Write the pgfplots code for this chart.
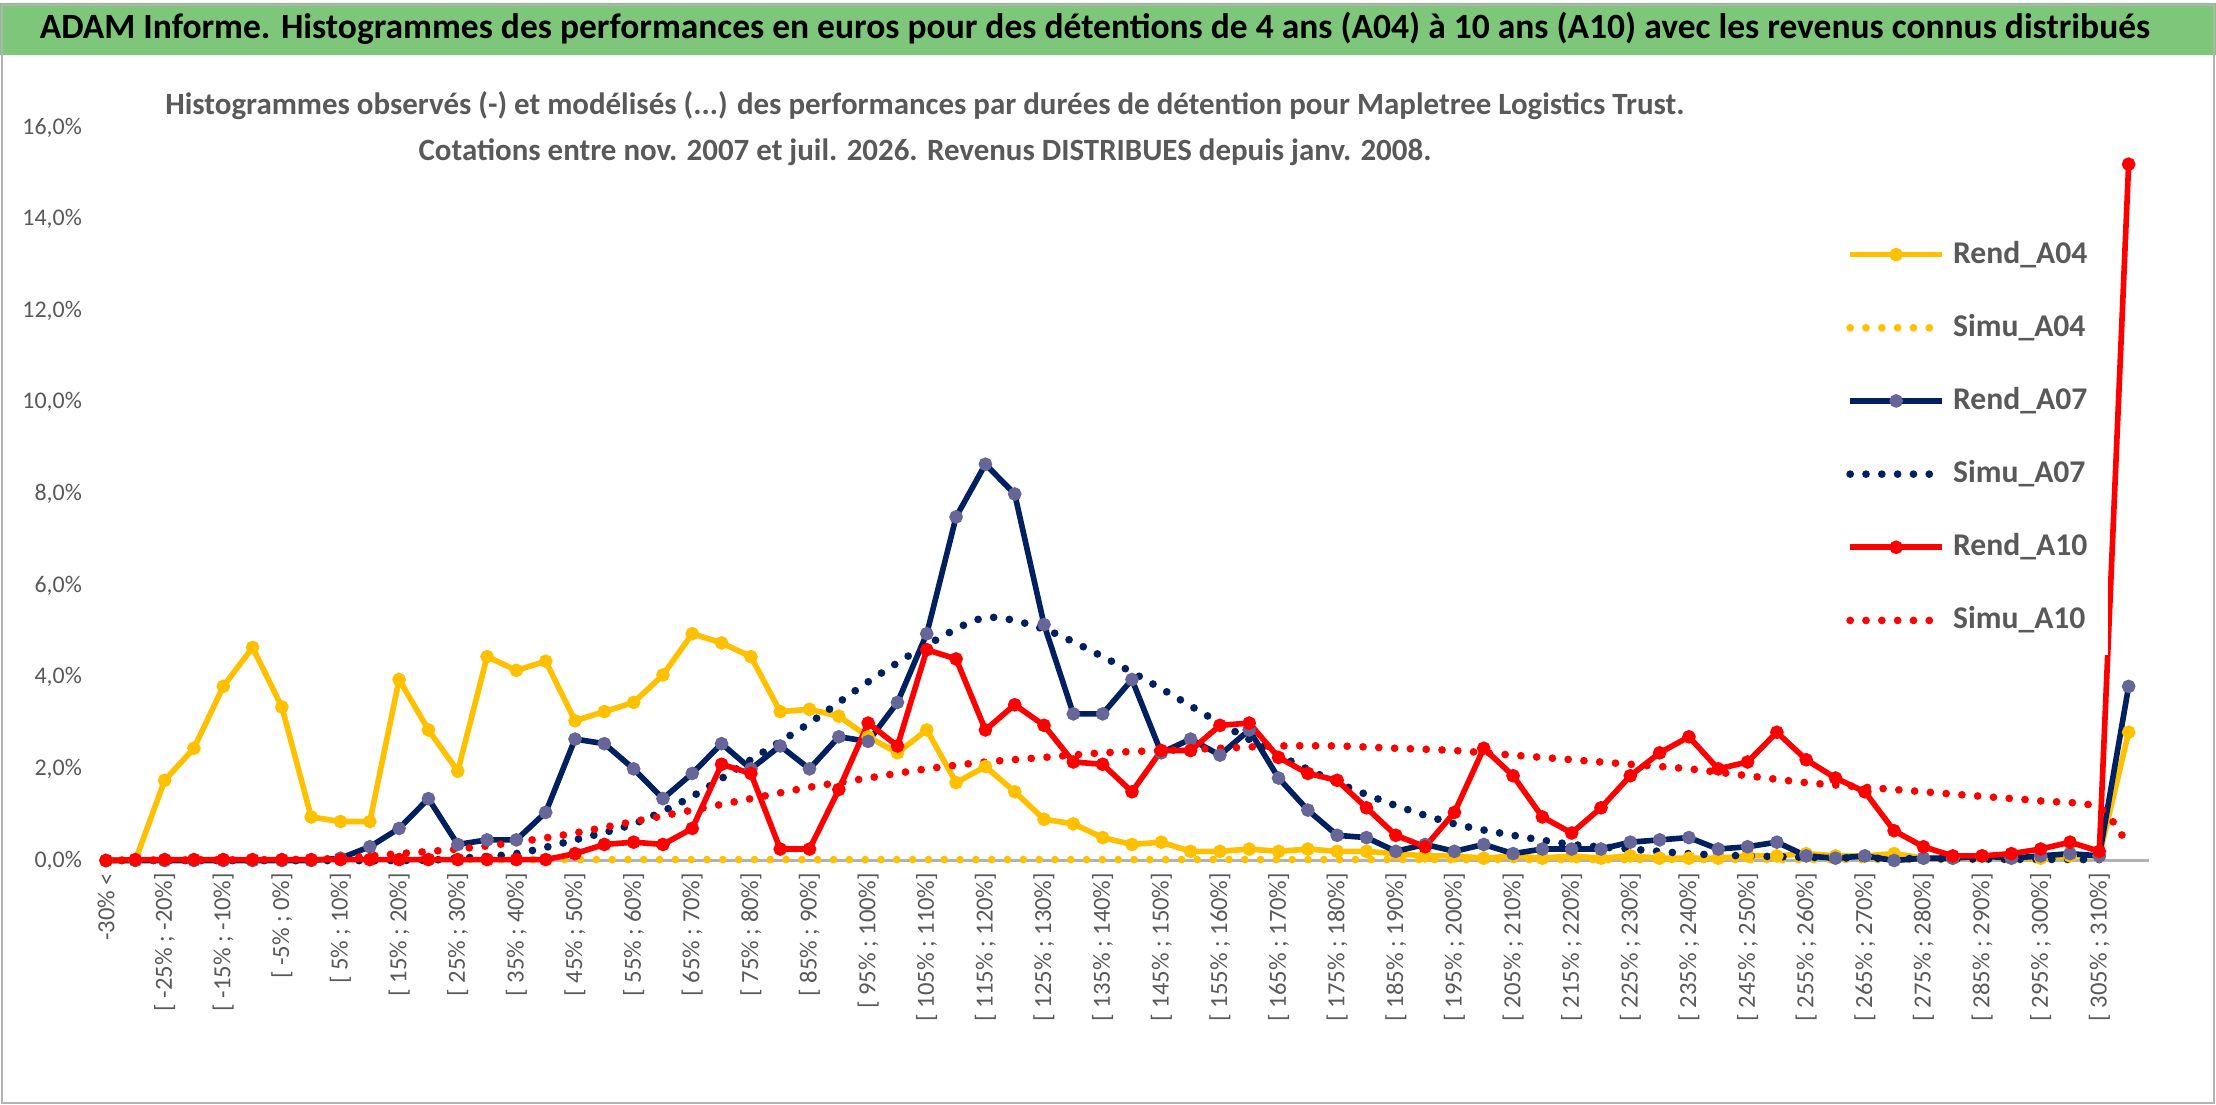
\documentclass[border=0pt]{standalone}
\usepackage{pgfplots}
\pgfplotsset{compat=1.18}
\usepackage{fontspec}
\setmainfont{Carlito}
\definecolor{cy}{HTML}{FFC000}
\definecolor{cn}{HTML}{002060}
\definecolor{cr}{HTML}{FF0000}
\definecolor{cg}{HTML}{7DC67A}
\definecolor{tg}{HTML}{595959}
\begin{document}
\begin{tikzpicture}
\fill[white] (0,0) rectangle (22.16,11.02);
\fill[cg] (0,10.5) rectangle (22.16,11.02);
\draw[gray!60,line width=0.4pt] (0.02,0.02) rectangle (22.14,11.0);
\node[font=\fontsize{10.1}{12}\selectfont\bfseries] at (10.95,10.77) {ADAM Informe. Histogrammes des performances en euros pour des détentions de 4 ans (A04) à 10 ans (A10) avec les revenus connus distribués};
\begin{axis}[at={(1.06cm,2.444cm)},anchor=origin,
  scale only axis,width=20.49cm,height=7.33cm,
  xmin=-0.2,xmax=69.7,ymin=0,ymax=16,
  axis y line=none, axis x line*=bottom,
  x axis line style={gray!60,line width=0.6pt},
  xtick={0,2,...,68}, major tick length=0pt,
  /pgf/number format/assume math mode=true,
  xticklabels={{-30\% <},{[ -25\% ; -20\%]},{[ -15\% ; -10\%]},{[ -5\% ; 0\%]},{[ 5\% ; 10\%]},{[ 15\% ; 20\%]},{[ 25\% ; 30\%]},{[ 35\% ; 40\%]},{[ 45\% ; 50\%]},{[ 55\% ; 60\%]},{[ 65\% ; 70\%]},{[ 75\% ; 80\%]},{[ 85\% ; 90\%]},{[ 95\% ; 100\%]},{[ 105\% ; 110\%]},{[ 115\% ; 120\%]},{[ 125\% ; 130\%]},{[ 135\% ; 140\%]},{[ 145\% ; 150\%]},{[ 155\% ; 160\%]},{[ 165\% ; 170\%]},{[ 175\% ; 180\%]},{[ 185\% ; 190\%]},{[ 195\% ; 200\%]},{[ 205\% ; 210\%]},{[ 215\% ; 220\%]},{[ 225\% ; 230\%]},{[ 235\% ; 240\%]},{[ 245\% ; 250\%]},{[ 255\% ; 260\%]},{[ 265\% ; 270\%]},{[ 275\% ; 280\%]},{[ 285\% ; 290\%]},{[ 295\% ; 300\%]},{[ 305\% ; 310\%]}},
  xticklabel style={rotate=90,anchor=east,font=\fontsize{7}{8}\selectfont,text=tg},
  clip=false,
  legend style={at={(0.845,0.875)},anchor=north west,draw=none,fill=white,font=\fontsize{9}{10}\selectfont\bfseries,text=tg,row sep=9pt,inner sep=4pt},
  legend cell align=left,
  legend image code/.code={\draw[#1,mark repeat=2,mark phase=2] plot coordinates {(0cm,0cm) (0.46cm,0cm) (0.92cm,0cm)};},
]
\pgfplotsinvokeforeach{0,2,...,16}{\node[anchor=east,font=\fontsize{6.8}{7}\selectfont,text=tg] at (axis cs:-0.4,#1) {\pgfmathprintnumber[fixed,fixed zerofill,precision=1,use comma,assume math mode=true]{#1}\%};}
\addplot[cy,line width=1.6pt,mark=*,mark size=1.1pt] coordinates {
(0,0)(1,0)(2,1.75)(3,2.45)(4,3.8)(5,4.65)(6,3.35)(7,0.95)(8,0.85)(9,0.85)(10,3.95)(11,2.85)(12,1.95)(13,4.45)(14,4.15)(15,4.35)(16,3.05)(17,3.25)(18,3.45)(19,4.05)(20,4.95)(21,4.75)(22,4.45)(23,3.25)(24,3.3)(25,3.15)(26,2.7)(27,2.35)(28,2.85)(29,1.7)(30,2.05)(31,1.5)(32,0.9)(33,0.8)(34,0.5)(35,0.35)(36,0.4)(37,0.2)(38,0.2)(39,0.25)(40,0.2)(41,0.25)(42,0.2)(43,0.2)(44,0.15)(45,0.1)(46,0.1)(47,0.05)(48,0.1)(49,0.05)(50,0.1)(51,0.05)(52,0.1)(53,0.05)(54,0.05)(55,0.05)(56,0.1)(57,0.1)(58,0.15)(59,0.1)(60,0.1)(61,0.15)(62,0.05)(63,0.05)(64,0.1)(65,0.05)(66,0.05)(67,0.1)(68,0.1)(69,2.8)};
\addlegendentry{Rend\_A04}
\addplot[cy,line width=2.2pt,line cap=round,dash pattern=on 0pt off 4.5pt] coordinates {(0,0.02)(10,0.02)(20,0.02)(30,0.02)(40,0.02)(50,0.02)(60,0.02)(68,0.02)};
\addlegendentry{Simu\_A04}
\addplot[cn,line width=1.6pt,mark=*,mark size=1.1pt,mark options={fill=gray!80!blue,draw=gray!80!blue}] coordinates {
(0,0)(1,0)(2,0)(3,0)(4,0)(5,0)(6,0)(7,0)(8,0.05)(9,0.3)(10,0.7)(11,1.35)(12,0.35)(13,0.45)(14,0.45)(15,1.05)(16,2.65)(17,2.55)(18,2.0)(19,1.35)(20,1.9)(21,2.55)(22,2.0)(23,2.5)(24,2.0)(25,2.7)(26,2.6)(27,3.45)(28,4.95)(29,7.5)(30,8.65)(31,8.0)(32,5.15)(33,3.2)(34,3.2)(35,3.95)(36,2.35)(37,2.65)(38,2.3)(39,2.85)(40,1.8)(41,1.1)(42,0.55)(43,0.5)(44,0.2)(45,0.35)(46,0.2)(47,0.35)(48,0.15)(49,0.25)(50,0.25)(51,0.25)(52,0.4)(53,0.45)(54,0.5)(55,0.25)(56,0.3)(57,0.4)(58,0.1)(59,0.05)(60,0.1)(61,0.0)(62,0.05)(63,0.05)(64,0.1)(65,0.05)(66,0.1)(67,0.15)(68,0.1)(69,3.8)};
\addlegendentry{Rend\_A07}
\addplot[cn,line width=2.2pt,line cap=round,dash pattern=on 0pt off 4.5pt,smooth] coordinates {
(0,0)(10,0)(12,0.05)(14,0.15)(16,0.45)(18,0.8)(20,1.4)(22,2.2)(24,3.0)(26,3.9)(28,4.7)(30,5.3)(32,5.05)(34,4.45)(36,3.75)(38,3.0)(40,2.3)(42,1.7)(44,1.2)(46,0.8)(48,0.55)(50,0.35)(52,0.25)(54,0.15)(56,0.1)(60,0.05)(68,0.02)};
\addlegendentry{Simu\_A07}
\addplot[cr,line width=1.6pt,mark=*,mark size=1.1pt] coordinates {
(0,0)(1,0.02)(2,0.02)(3,0.02)(4,0.02)(5,0.02)(6,0.02)(7,0.02)(8,0.02)(9,0.02)(10,0.02)(11,0.02)(12,0.02)(13,0.02)(14,0.02)(15,0.02)(16,0.15)(17,0.35)(18,0.4)(19,0.35)(20,0.7)(21,2.1)(22,1.9)(23,0.25)(24,0.25)(25,1.55)(26,3.0)(27,2.5)(28,4.6)(29,4.4)(30,2.85)(31,3.4)(32,2.95)(33,2.15)(34,2.1)(35,1.5)(36,2.4)(37,2.4)(38,2.95)(39,3.0)(40,2.25)(41,1.9)(42,1.75)(43,1.15)(44,0.55)(45,0.3)(46,1.05)(47,2.45)(48,1.85)(49,0.95)(50,0.6)(51,1.15)(52,1.85)(53,2.35)(54,2.7)(55,2.0)(56,2.15)(57,2.8)(58,2.2)(59,1.8)(60,1.5)(61,0.65)(62,0.3)(63,0.1)(64,0.1)(65,0.15)(66,0.25)(67,0.4)(68,0.2)(69,15.2)};
\addlegendentry{Rend\_A10}
\addplot[cr,line width=2.2pt,line cap=round,dash pattern=on 0pt off 4.5pt,smooth] coordinates {
(0,0)(6,0.02)(8,0.05)(10,0.15)(12,0.25)(14,0.4)(16,0.6)(18,0.85)(20,1.1)(22,1.35)(24,1.6)(26,1.8)(28,2.0)(30,2.15)(32,2.25)(34,2.35)(36,2.4)(38,2.45)(40,2.5)(42,2.5)(44,2.45)(46,2.4)(48,2.3)(50,2.2)(52,2.1)(54,2.0)(56,1.85)(58,1.7)(60,1.6)(62,1.5)(64,1.4)(66,1.3)(68,1.15)(69,0.3)};
\addlegendentry{Simu\_A10}
\end{axis}
\node[fill=white,align=center,font=\fontsize{8.8}{13}\selectfont\bfseries,text=tg,inner sep=3pt] at (9.25,9.76) {Histogrammes observés (-) et modélisés (...) des performances par durées de détention pour Mapletree Logistics Trust.\\Cotations entre nov. 2007 et juil. 2026. Revenus DISTRIBUES depuis janv. 2008.};
\end{tikzpicture}
\end{document}
